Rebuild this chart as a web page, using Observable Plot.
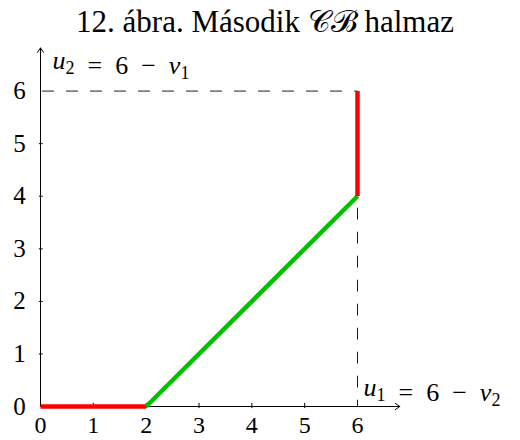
<!DOCTYPE html>
<html>
<head>
<meta charset="utf-8">
<script src="https://cdn.jsdelivr.net/npm/d3@7"></script>
<script src="https://cdn.jsdelivr.net/npm/@observablehq/plot@0.6"></script>
<style>
  body { margin: 0; background: #fff; }
  #title {
    width: 520px; height: 38px; box-sizing: border-box;
    padding-top: 4px; padding-left: 10px;
    font-family: "Liberation Serif", "DejaVu Serif", serif;
    font-size: 31px; line-height: 36px;
    text-align: center; color: #000; white-space: nowrap;
  }
  #chart svg { display: block; }
</style>
</head>
<body>
<div id="title">12. ábra. Második 𝒞ℬ halmaz</div>
<div id="chart"></div>
<script>
// Tick values on both axes
const xTicks = [0, 1, 2, 3, 4, 5, 6];
const yTicks = [0, 1, 2, 3, 4, 5, 6];
const minorX = [1, 2, 3, 4, 5];
const minorY = [1, 2, 3, 4, 5];

// Boundary pieces of the set
const redBottom = [{x: 0, y: 0}, {x: 2, y: 0}];
const greenDiag = [{x: 2, y: 0}, {x: 6, y: 4}];
const redRight = [{x: 6, y: 4}, {x: 6, y: 6}];
// Guide lines to the corner (6, 6)
const guide = [{x: 0, y: 6}, {x: 6, y: 6}, {x: 6, y: 0}];

// Axis arrows
const axes = [
  {x1: 0, y1: 0, x2: 6.8, y2: 0},
  {x1: 0, y1: 0, x2: 0, y2: 6.82}
];

// Axis titles
const xTitle = "u_1 = 6 − v_2";
const yTitle = "u_2 = 6 − v_1";

const font = "'Liberation Serif', 'DejaVu Serif', serif";

const plot = Plot.plot({
  width: 520,
  height: 402,
  marginLeft: 40,
  marginRight: 163,
  marginTop: 52.6,
  marginBottom: 34,
  x: {domain: [0, 6], axis: null},
  y: {domain: [0, 6], axis: null},
  style: {fontFamily: font, background: "#fff", overflow: "visible"},
  marks: [
    Plot.line(guide, {x: "x", y: "y", stroke: "#000", strokeWidth: 0.9, strokeDasharray: "11,13", strokeDashoffset: -2}),
    Plot.arrow(axes, {x1: "x1", y1: "y1", x2: "x2", y2: "y2", stroke: "#000", strokeWidth: 1, headLength: 8, headAngle: 70}),
    Plot.ruleX(minorX, {x: d => d, y1: -0.04, y2: 0.06, stroke: "#000", strokeWidth: 1}),
    Plot.ruleY(minorY, {y: d => d, x1: -0.02, x2: 0.05, stroke: "#000", strokeWidth: 1}),
    Plot.line(redBottom, {x: "x", y: "y", stroke: "#ff0000", strokeWidth: 4.5, strokeLinecap: "butt"}),
    Plot.line(greenDiag, {x: "x", y: "y", stroke: "#00c000", strokeWidth: 4.5, strokeLinecap: "butt"}),
    Plot.line(redRight, {x: "x", y: "y", stroke: "#ff0000", strokeWidth: 4.5, strokeLinecap: "butt"}),
    Plot.text(xTicks, {x: d => d, y: 0, text: d => String(d), dy: 19, fontSize: 24, fill: "#000", lineAnchor: "middle"}),
    Plot.text(yTicks, {x: 0, y: d => d, text: d => String(d), dx: -21, fontSize: 25, fill: "#000", textAnchor: "middle", lineAnchor: "middle"}),
    Plot.text([xTitle], {x: 6, y: 0, text: d => d, dx: 6, dy: -19, fontSize: 26, fill: "#000", textAnchor: "start", lineAnchor: "middle", className: "math"}),
    Plot.text([yTitle], {x: 0, y: 6.82, text: d => d, dx: 12, dy: 13, fontSize: 26, fill: "#000", textAnchor: "start", lineAnchor: "middle", className: "math"})
  ]
});

// Typeset "u_1 = 6 − v_2" style labels: italic letters, lowered small subscripts,
// wider spaces around the operators
d3.select(plot).selectAll(".math text").each(function() {
  const el = d3.select(this);
  const src = el.text();
  el.text(null);
  const re = /([a-z])_(\d)|([^a-z]+)/g;
  let m;
  while ((m = re.exec(src))) {
    if (m[1]) {
      el.append("tspan").attr("font-style", "italic").text(m[1]);
      el.append("tspan").attr("font-size", 18).attr("dy", 5).text(m[2]);
      el.append("tspan").attr("dy", -5).text("");
    } else {
      el.append("tspan").text(m[3].replace(/ /g, "\u2002"));
    }
  }
});

document.getElementById("chart").appendChild(plot);
</script>
</body>
</html>
